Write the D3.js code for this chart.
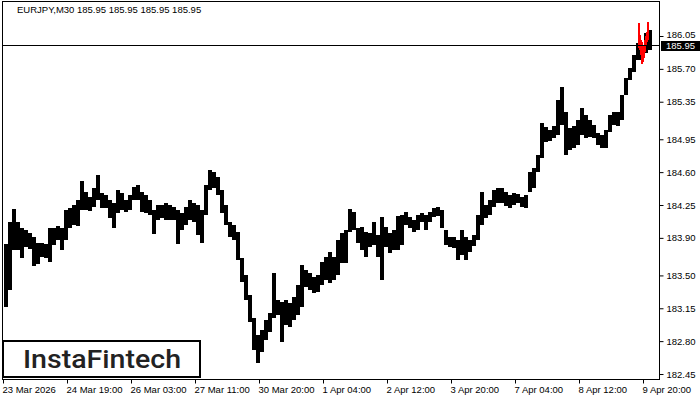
<!DOCTYPE html>
<html><head><meta charset="utf-8">
<script src="https://cdn.jsdelivr.net/npm/d3@7"></script>
<style>body{margin:0;background:#fff}svg{display:block}</style>
</head><body><svg id="c" width="700" height="400"></svg>
<script>
const symbol = "EURJPY,M30";
const ohlcValues = [185.95, 185.95, 185.95, 185.95];
const lastPrice = 185.95;
const brand = "InstaFintech";

// high / low of each group of 4 M30 bars (first group starts at bar 1)
const highs = [
183.83,184.07,184.21,184.07,184.00,183.98,183.95,183.91,183.85,183.85,
183.83,184.00,184.00,184.03,184.00,184.20,184.22,184.25,184.30,184.51,
184.39,184.33,184.43,184.57,184.38,184.36,184.30,184.27,184.41,184.38,
184.30,184.36,184.44,184.46,184.39,184.36,184.30,184.20,184.25,184.25,
184.27,184.25,184.23,184.20,184.16,184.23,184.30,184.27,184.25,184.20,
184.46,184.62,184.60,184.55,184.41,184.25,184.07,184.04,183.96,183.69,
183.50,183.29,183.05,182.87,182.92,183.03,183.10,183.53,183.24,183.22,
183.24,183.21,183.27,183.40,183.61,183.56,183.53,183.48,183.50,183.64,
183.70,183.75,183.70,183.88,183.95,183.98,184.21,184.18,184.00,184.02,
183.96,183.95,184.07,183.93,184.12,184.02,183.95,183.98,184.13,184.14,
184.18,184.12,184.09,184.14,184.16,184.14,184.18,184.22,184.23,184.20,
183.98,183.91,183.91,183.88,183.98,183.91,183.88,183.93,184.14,184.39,
184.25,184.30,184.41,184.43,184.43,184.39,184.36,184.38,184.37,184.33,
184.36,184.60,184.64,184.78,185.12,185.08,185.05,185.09,185.37,185.51,
185.24,185.07,185.09,185.16,185.28,185.21,185.16,185.10,185.02,185.00,
185.05,185.21,185.24,185.24,185.42,185.60,185.71,185.85,185.98,185.95,
186.08,186.11];
const lows = [
183.16,183.34,183.77,183.77,183.69,183.80,183.78,183.60,183.62,183.70,
183.69,183.64,183.82,183.88,183.77,183.88,184.00,184.04,184.03,184.20,
184.20,184.19,184.23,184.30,184.22,184.22,184.11,184.00,184.16,184.20,
184.18,184.20,184.30,184.30,184.18,184.16,184.14,183.94,184.09,184.11,
184.09,184.09,184.09,183.83,183.98,184.04,184.09,184.07,183.93,183.85,
184.14,184.41,184.43,184.36,184.16,184.04,183.91,183.88,183.66,183.43,
183.24,183.00,182.71,182.57,182.68,182.81,182.90,183.05,183.08,182.79,
182.97,182.95,183.03,183.08,183.16,183.38,183.34,183.31,183.32,183.40,
183.45,183.42,183.45,183.50,183.63,183.63,183.96,183.98,183.85,183.77,
183.70,183.80,183.82,183.70,183.45,183.80,183.74,183.77,183.77,183.82,
184.04,184.00,183.96,183.98,184.07,183.98,184.07,184.12,184.13,184.00,
183.82,183.80,183.79,183.66,183.72,183.66,183.75,183.81,183.88,184.04,
184.11,184.14,184.23,184.27,184.27,184.24,184.22,184.25,184.27,184.23,
184.22,184.39,184.43,184.60,184.75,184.92,184.93,184.96,185.00,185.10,
184.78,184.84,184.86,184.89,185.00,184.96,184.97,184.96,184.89,184.86,
184.86,185.03,185.10,185.09,185.16,185.42,185.58,185.67,185.79,185.79,
185.87,185.90];

// pattern bars drawn in red
const patternBars = [635,636,637,638,639,640,641,642,643,644,645];
const patternHigh = [186.19,186.19,186.06,186.01,185.99,185.95,186.01,186.05,186.09,186.20,186.20];
const patternLow  = [185.92,185.90,185.85,185.75,185.75,185.77,185.82,185.88,185.94,185.99,186.01];

const timeTickBars = [0,64,128,192,256,320,384,448,512,576,640];
const timeTickLabels = ["23 Mar 2026","24 Mar 19:00","26 Mar 03:00","27 Mar 11:00","30 Mar 20:00","1 Apr 04:00","2 Apr 12:00","3 Apr 20:00","7 Apr 04:00","8 Apr 12:00","9 Apr 20:00"];
const priceTicks = [182.45,182.80,183.15,183.50,183.90,184.25,184.60,184.95,185.35,185.70,186.05];

const barsPerColumn = 4, firstBar = 1, totalBars = 656;

const svg = d3.select("#c");
const L = 3, R = 659, T = 2, B = 380;
const x = d3.scaleLinear().domain([0, totalBars]).range([L, R]);
const y = d3.scaleLinear().domain([182.45, 186.05]).range([374, 36]);
const font = "'Liberation Sans', Arial, sans-serif";

svg.append("rect").attr("width",700).attr("height",400).attr("fill","#fff");

// bars
const cols = highs.map((h,i)=>({i, h, l: lows[i]}));
svg.append("g").attr("shape-rendering","crispEdges").selectAll("rect").data(cols).join("rect")
  .attr("x", d => x(firstBar + d.i*barsPerColumn))
  .attr("width", d => x(firstBar + (d.i+1)*barsPerColumn) - x(firstBar + d.i*barsPerColumn))
  .attr("y", d => Math.round(y(d.h)))
  .attr("height", d => Math.max(1, Math.round(y(d.l)) - Math.round(y(d.h))))
  .attr("fill", "#000");

// pattern (red)
const pat = patternBars.map((b,i)=>({b, h: patternHigh[i], l: patternLow[i]}));
svg.append("g").attr("shape-rendering","crispEdges").selectAll("rect").data(pat).join("rect")
  .attr("x", d => x(d.b))
  .attr("width", d => x(d.b+1) - x(d.b))
  .attr("y", d => Math.round(y(d.h)))
  .attr("height", d => Math.max(1, Math.round(y(d.l)) - Math.round(y(d.h))))
  .attr("fill", "#ff0000");

// last price line
svg.append("line").attr("x1", L).attr("x2", R)
  .attr("y1", Math.round(y(lastPrice))+0.5).attr("y2", Math.round(y(lastPrice))+0.5)
  .attr("stroke","#000").attr("stroke-width",1);

// frame
svg.append("rect").attr("x", L-0.5).attr("y", T-0.5).attr("width", R-L+1).attr("height", B-T)
  .attr("fill","none").attr("stroke","#000").attr("stroke-width",1);

// right axis
const ya = svg.append("g").attr("transform",`translate(${R+0.5},0)`)
  .call(d3.axisRight(y).tickValues(priceTicks).tickFormat(d3.format(".2f")).tickSize(4).tickPadding(3));
ya.select(".domain").remove();
ya.selectAll("text").attr("font-family", font).attr("font-size", "9.5px").attr("fill","#000");
ya.selectAll("line").attr("stroke","#000");
ya.selectAll(".tick").filter(d => d === 186.05).select("text").attr("dy","0.2em");

// bottom axis
const xa = svg.append("g").attr("transform",`translate(0,${B-0.5})`)
  .call(d3.axisBottom(x).tickValues(timeTickBars).tickFormat((d,i)=>timeTickLabels[i]).tickSize(4).tickPadding(3));
xa.select(".domain").remove();
xa.selectAll("text").attr("font-family", font).attr("font-size","9.5px").attr("fill","#000")
  .attr("text-anchor","start").attr("x",-1);
xa.selectAll("line").attr("stroke","#000");

// last price label
const py = y(lastPrice);
svg.append("rect").attr("x", 661).attr("y", Math.round(py)-4).attr("width", 39).attr("height", 10).attr("fill","#000");
svg.append("text").attr("x", 666).attr("y", Math.round(py)+1).attr("dy","0.35em")
  .attr("font-family", font).attr("font-size","9.5px").attr("fill","#fff").text(d3.format(".2f")(lastPrice));

// title
svg.append("text").attr("x", 17).attr("y", 13)
  .attr("font-family", font).attr("font-size","9.5px").attr("fill","#000")
  .text(symbol + "  " + ohlcValues.map(d3.format(".2f")).join(" "));

// brand box
svg.append("rect").attr("x", 3).attr("y", 341).attr("width", 197).attr("height", 36)
  .attr("fill","#fff").attr("stroke","#000").attr("stroke-width",2);
svg.append("text").attr("x", 23).attr("y", 368)
  .attr("font-family","Roboto, 'Noto Sans', sans-serif").attr("font-weight",500)
  .attr("font-size","26.5px").attr("fill","#222")
  .attr("textLength",158).attr("lengthAdjust","spacingAndGlyphs").text(brand);
</script></body></html>
